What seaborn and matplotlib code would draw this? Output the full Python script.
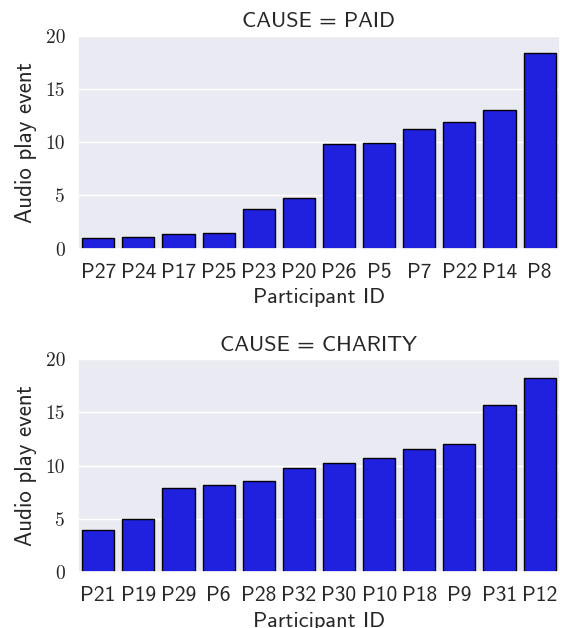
import pandas as pd
import matplotlib
matplotlib.use('Agg')
import matplotlib.pyplot as plt
import seaborn as sns

# audio play events per participant
paid_ids = ['P27', 'P24', 'P17', 'P25', 'P23', 'P20', 'P26', 'P5', 'P7', 'P22', 'P14', 'P8']
paid_values = [0.97, 1.13, 1.37, 1.47, 3.76, 4.72, 9.86, 9.95, 11.2, 11.92, 13.05, 18.4]

charity_ids = ['P21', 'P19', 'P29', 'P6', 'P28', 'P32', 'P30', 'P10', 'P18', 'P9', 'P31', 'P12']
charity_values = [3.95, 4.95, 7.87, 8.16, 8.53, 9.82, 10.29, 10.73, 11.61, 12.05, 15.66, 18.27]

y_ticks = [0, 5, 10, 15, 20]

df = pd.concat([
    pd.DataFrame({'pid': paid_ids, 'audio': paid_values, 'cause': 'PAID'}),
    pd.DataFrame({'pid': charity_ids, 'audio': charity_values, 'cause': 'CHARITY'}),
])

sns.set_theme(style='darkgrid')
plt.rcParams['font.family'] = ['cmss10', 'DejaVu Sans']
plt.rcParams['axes.unicode_minus'] = False

fig, axes = plt.subplots(2, 1, figsize=(5.62, 6.28), dpi=100)
fig.subplots_adjust(left=0.139, right=0.996, top=0.943, bottom=0.089, hspace=0.52)

for ax, cause, order in zip(axes, ['PAID', 'CHARITY'], [paid_ids, charity_ids]):
    sub = df[df['cause'] == cause]
    sns.barplot(data=sub, x='pid', y='audio', order=order, color='blue',
                edgecolor='black', linewidth=1, ax=ax)
    ax.set_title('CAUSE = ' + cause, fontsize=16, pad=6)
    ax.set_xlabel('Participant ID', fontsize=16, labelpad=5)
    ax.set_ylabel('Audio play event', fontsize=16.5, labelpad=6)
    ax.set_ylim(0, 20)
    ax.set_yticks(y_ticks)
    ax.set_yticklabels([str(t) for t in y_ticks], fontfamily='cmr10', fontsize=14)
    ax.tick_params(axis='x', labelsize=15.5, length=0, pad=10)
    ax.tick_params(axis='y', length=0, pad=9.4)

fig.savefig('out.png', dpi=100)
